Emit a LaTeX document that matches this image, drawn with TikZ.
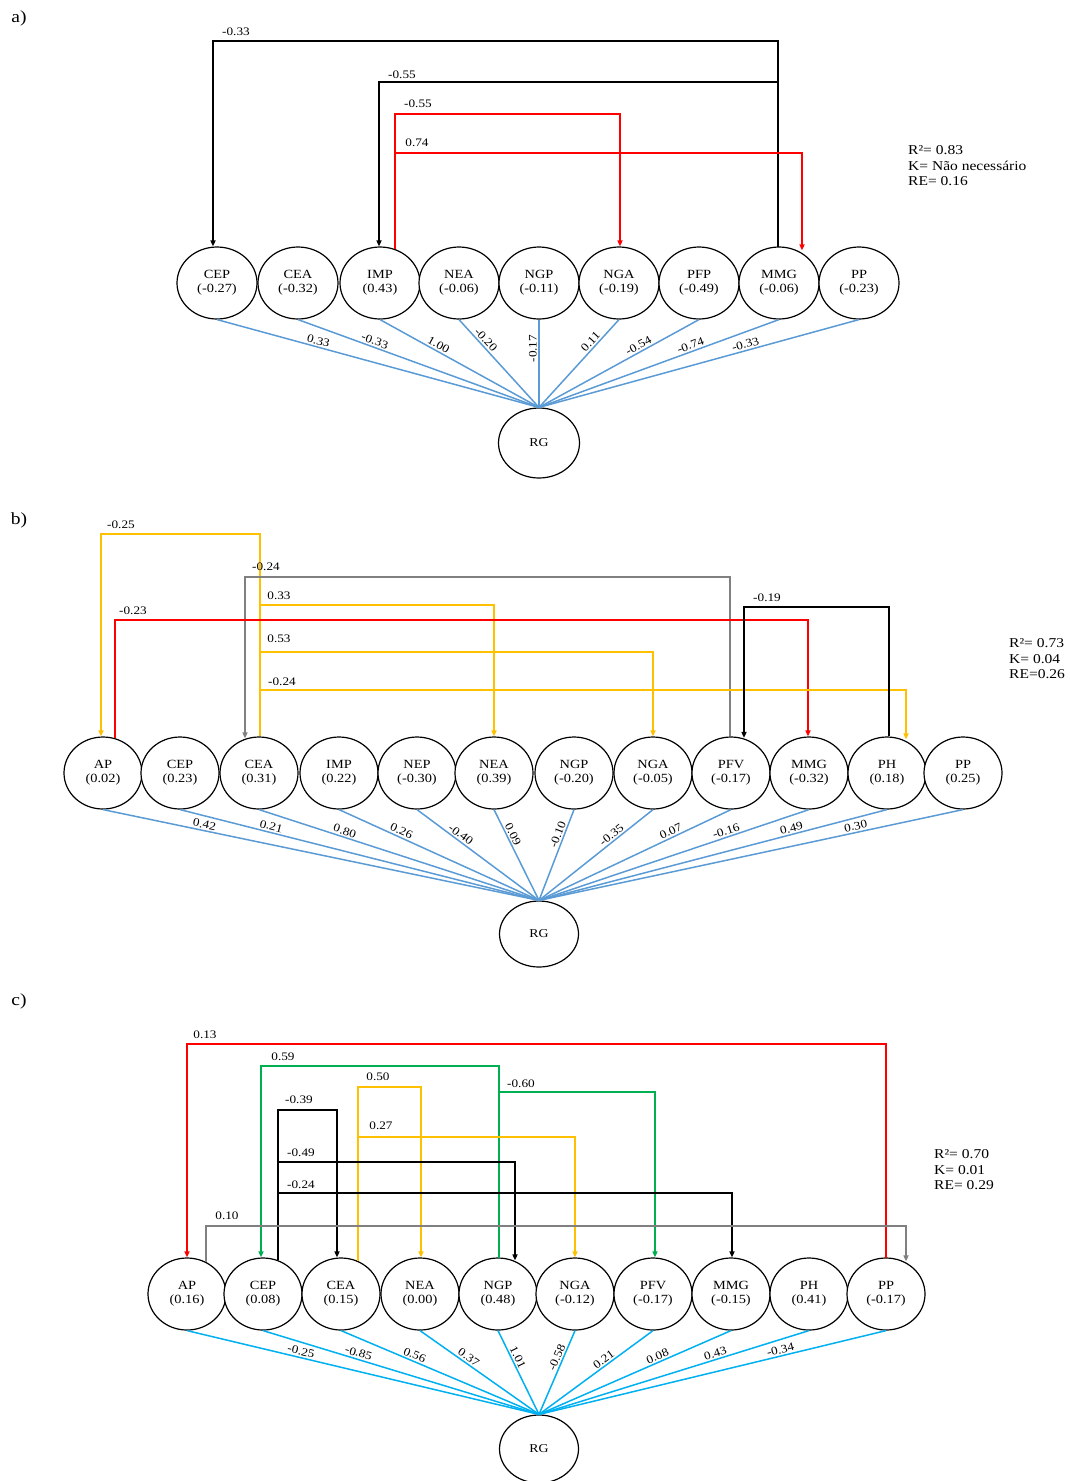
\documentclass[tikz,border=0pt]{standalone}
\usepackage{fontspec}
\setmainfont{Liberation Serif}
\usepackage{graphicx}
\usetikzlibrary{shapes.geometric,arrows.meta}
\definecolor{cblue}{HTML}{5B9BD5}
\definecolor{ccyan}{HTML}{00B0F0}
\definecolor{cred}{HTML}{FF0000}
\definecolor{cyel}{HTML}{FFC000}
\definecolor{cgry}{HTML}{808080}
\definecolor{cgrn}{HTML}{00B050}
\newcommand{\sx}[1]{\scalebox{1.15}[1]{#1}}
\newcommand{\nt}[2]{\raisebox{-2pt}{\sx{\begin{tabular}{@{}c@{}}#1\\#2\end{tabular}}}}
\newcommand{\rgt}{\raisebox{-1.5pt}{\sx{RG}}}
\begin{document}
\begin{tikzpicture}[x=1pt,y=-1pt,
  ell/.style={draw,ellipse,fill=white,line width=1.2pt,inner sep=0pt,minimum width=80pt,minimum height=72pt,font=\fontsize{12.5}{14}\selectfont},
  ellb/.style={ell,minimum width=78pt},
  rg/.style={ell,minimum width=81pt,font=\fontsize{12}{13}\selectfont},
  arr/.style={-{Triangle[length=6pt,width=5pt]}},
  conn/.style={line width=1.6pt},
  kblk/.style={conn,draw=black},
  kred/.style={conn,draw=cred},
  kyel/.style={conn,draw=cyel},
  kgry/.style={conn,draw=cgry},
  kgrn/.style={conn,draw=cgrn},
  spa/.style={draw=cblue,line width=1.5pt},
  spc/.style={draw=ccyan,line width=1.5pt},
  sl/.style={sloped,above,inner sep=1.5pt,font=\fontsize{11.5}{13}\selectfont},
  tl/.style={inner sep=0pt,font=\fontsize{11.5}{13}\selectfont},
  info/.style={anchor=west,inner sep=0pt,font=\fontsize{13.5}{15.5}\selectfont},
  plab/.style={inner sep=0pt,font=\fontsize{17}{19}\selectfont}
]
\useasboundingbox (0,0) rectangle (1070,1481);

% ---------------- panel a ----------------
\node[plab] (pa) at (19,18) {\sx{a)}};
\node[ell] (aCEP) at (217,283) {\nt{CEP}{(-0.27)}};
\node[ell] (aCEA) at (298,283) {\nt{CEA}{(-0.32)}};
\node[ell] (aIMP) at (380,283) {\nt{IMP}{(0.43)}};
\node[ell] (aNEA) at (459,283) {\nt{NEA}{(-0.06)}};
\node[ell] (aNGP) at (539,283) {\nt{NGP}{(-0.11)}};
\node[ell] (aNGA) at (619,283) {\nt{NGA}{(-0.19)}};
\node[ell] (aPFP) at (699,283) {\nt{PFP}{(-0.49)}};
\node[ell] (aMMG) at (779,283) {\nt{MMG}{(-0.06)}};
\node[ell] (aPP) at (859,283) {\nt{PP}{(-0.23)}};
\node[rg,minimum height=70pt] (aRG) at (539,443) {\rgt};

\draw[spa] (aCEP.south) -- node[sl,pos=0.31]{\sx{0.33}} (aRG.north);
\draw[spa] (aCEA.south) -- node[sl,pos=0.31]{\sx{-0.33}} (aRG.north);
\draw[spa] (aIMP.south) -- node[sl,pos=0.35]{\sx{1.00}} (aRG.north);
\draw[spa] (aNEA.south) -- node[sl,pos=0.28]{\sx{-0.20}} (aRG.north);
\draw[spa] (aRG.north) -- node[sl,pos=0.67]{\sx{-0.17}} (aNGP.south);
\draw[spa] (aNGA.south) -- node[sl,pos=0.3]{\sx{0.11}} (aRG.north);
\draw[spa] (aPFP.south) -- node[sl,pos=0.36]{\sx{-0.54}} (aRG.north);
\draw[spa] (aMMG.south) -- node[sl,pos=0.36]{\sx{-0.74}} (aRG.north);
\draw[spa] (aPP.south) -- node[sl,pos=0.35]{\sx{-0.33}} (aRG.north);

\coordinate (aMMGt) at ([xshift=-1pt,yshift=-1pt]aMMG.north);
\coordinate (aCEPh) at ([xshift=-4pt]aCEP.north);
\coordinate (aIMPh) at ([xshift=-1pt]aIMP.north);
\coordinate (aIMPt) at ([xshift=15pt,yshift=-2.5pt]aIMP.north);
\coordinate (aNGAh) at ([xshift=1pt]aNGA.north);
\coordinate (aMMGh) at ([xshift=23pt,yshift=-4pt]aMMG.north);
\draw[kblk,arr] (aMMGt) -- (aMMGt |- 0,41) -| (aCEPh);
\draw[kblk,arr] (aMMGt |- 0,82) -| (aIMPh);
\draw[kred,arr] (aIMPt) -- (aIMPt |- 0,114) -| (aNGAh);
\draw[kred,arr] (aIMPt |- 0,153) -| (aMMGh);
\node[tl] (la1) at (236,32) {\sx{-0.33}};
\node[tl] (la2) at (402,75) {\sx{-0.55}};
\node[tl] (la3) at (418,104) {\sx{-0.55}};
\node[tl] (la4) at (417,143) {\sx{0.74}};
\node[info] (ia) at (908,167) {\sx{\begin{tabular}{@{}l@{}}R²= 0.83\\K= Não necessário\\RE= 0.16\end{tabular}}};

% ---------------- panel b ----------------
\node[plab] (pb) at (19,520) {\sx{b)}};
\node[ellb] (bAP) at (103,773) {\nt{AP}{(0.02)}};
\node[ellb] (bCEP) at (180,773) {\nt{CEP}{(0.23)}};
\node[ellb] (bCEA) at (259,773) {\nt{CEA}{(0.31)}};
\node[ellb] (bIMP) at (339,773) {\nt{IMP}{(0.22)}};
\node[ellb] (bNEP) at (417,773) {\nt{NEP}{(-0.30)}};
\node[ellb] (bNEA) at (494,773) {\nt{NEA}{(0.39)}};
\node[ellb] (bNGP) at (574,773) {\nt{NGP}{(-0.20)}};
\node[ellb] (bNGA) at (653,773) {\nt{NGA}{(-0.05)}};
\node[ellb] (bPFV) at (731,773) {\nt{PFV}{(-0.17)}};
\node[ellb] (bMMG) at (809,773) {\nt{MMG}{(-0.32)}};
\node[ellb] (bPH) at (887,773) {\nt{PH}{(0.18)}};
\node[ellb] (bPP) at (963,773) {\nt{PP}{(0.25)}};
\node[rg,minimum height=66pt,minimum width=79pt] (bRG) at (539,934) {\rgt};

\draw[spa] (bAP.south) -- node[sl,pos=0.23]{\sx{0.42}} (bRG.north);
\draw[spa] (bCEP.south) -- node[sl,pos=0.25]{\sx{0.21}} (bRG.north);
\draw[spa] (bCEA.south) -- node[sl,pos=0.3]{\sx{0.80}} (bRG.north);
\draw[spa] (bIMP.south) -- node[sl,pos=0.3]{\sx{0.26}} (bRG.north);
\draw[spa] (bNEP.south) -- node[sl,pos=0.33]{\sx{-0.40}} (bRG.north);
\draw[spa] (bNEA.south) -- node[sl,pos=0.3]{\sx{0.09}} (bRG.north);
\draw[spa] (bNGP.south) -- node[sl,pos=0.3]{\sx{-0.10}} (bRG.north);
\draw[spa] (bNGA.south) -- node[sl,pos=0.33]{\sx{-0.35}} (bRG.north);
\draw[spa] (bPFV.south) -- node[sl,pos=0.3]{\sx{0.07}} (bRG.north);
\draw[spa] (bMMG.south) -- node[sl,pos=0.3]{\sx{-0.16}} (bRG.north);
\draw[spa] (bPH.south) -- node[sl,pos=0.27]{\sx{0.49}} (bRG.north);
\draw[spa] (bPP.south) -- node[sl,pos=0.25]{\sx{0.30}} (bRG.north);

\coordinate (bCEAt) at ([xshift=1pt]bCEA.north);
\coordinate (bAPh) at ([xshift=-2pt]bAP.north);
\coordinate (bPFVt) at ([xshift=-1pt]bPFV.north);
\coordinate (bCEAh) at ([xshift=-14pt,yshift=-2pt]bCEA.north);
\coordinate (bNEAh) at (bNEA.north);
\coordinate (bAPt) at ([xshift=12pt,yshift=-1.5pt]bAP.north);
\coordinate (bMMGh) at ([xshift=-1pt]bMMG.north);
\coordinate (bNGAh) at (bNGA.north);
\coordinate (bPHh) at ([xshift=19pt,yshift=-3pt]bPH.north);
\coordinate (bPHt) at ([xshift=2pt]bPH.north);
\coordinate (bPFVh) at ([xshift=13pt,yshift=-1.5pt]bPFV.north);
\draw[kyel,arr] (bCEAt) -- (bCEAt |- 0,534) -| (bAPh);
\draw[kgry,arr] (bPFVt) -- (bPFVt |- 0,577) -| (bCEAh);
\draw[kyel,arr] (bCEAt |- 0,605) -| (bNEAh);
\draw[kred,arr] (bAPt) -- (bAPt |- 0,620) -| (bMMGh);
\draw[kyel,arr] (bCEAt |- 0,652) -| (bNGAh);
\draw[kyel,arr] (bCEAt |- 0,690) -| (bPHh);
\draw[kblk,arr] (bPHt) -- (bPHt |- 0,607) -| (bPFVh);
\node[tl] (lb1) at (121,525) {\sx{-0.25}};
\node[tl] (lb2) at (266,567) {\sx{-0.24}};
\node[tl] (lb3) at (279,596) {\sx{0.33}};
\node[tl] (lb4) at (133,611) {\sx{-0.23}};
\node[tl] (lb5) at (279,639) {\sx{0.53}};
\node[tl] (lb6) at (282,682) {\sx{-0.24}};
\node[tl] (lb7) at (767,598) {\sx{-0.19}};
\node[info] (ib) at (1009,660) {\sx{\begin{tabular}{@{}l@{}}R²= 0.73\\K= 0.04\\RE=0.26\end{tabular}}};

% ---------------- panel c ----------------
\node[plab] (pc) at (19,1001) {\sx{c)}};
\node[ellb] (cAP) at (187,1294) {\nt{AP}{(0.16)}};
\node[ellb] (cCEP) at (263,1294) {\nt{CEP}{(0.08)}};
\node[ellb] (cCEA) at (341,1294) {\nt{CEA}{(0.15)}};
\node[ellb] (cNEA) at (420,1294) {\nt{NEA}{(0.00)}};
\node[ellb] (cNGP) at (498,1294) {\nt{NGP}{(0.48)}};
\node[ellb] (cNGA) at (575,1294) {\nt{NGA}{(-0.12)}};
\node[ellb] (cPFV) at (653,1294) {\nt{PFV}{(-0.17)}};
\node[ellb] (cMMG) at (731,1294) {\nt{MMG}{(-0.15)}};
\node[ellb] (cPH) at (809,1294) {\nt{PH}{(0.41)}};
\node[ellb] (cPP) at (886,1294) {\nt{PP}{(-0.17)}};
\node[rg,minimum height=68pt,minimum width=79pt] (cRG) at (539,1449) {\rgt};

\draw[spc] (cAP.south) -- node[sl,pos=0.32]{\sx{-0.25}} (cRG.north);
\draw[spc] (cCEP.south) -- node[sl,pos=0.34]{\sx{-0.85}} (cRG.north);
\draw[spc] (cCEA.south) -- node[sl,pos=0.36]{\sx{0.56}} (cRG.north);
\draw[spc] (cNEA.south) -- node[sl,pos=0.38]{\sx{0.37}} (cRG.north);
\draw[spc] (cNGP.south) -- node[sl,pos=0.35]{\sx{1.01}} (cRG.north);
\draw[spc] (cNGA.south) -- node[sl,pos=0.35]{\sx{-0.58}} (cRG.north);
\draw[spc] (cPFV.south) -- node[sl,pos=0.4]{\sx{0.21}} (cRG.north);
\draw[spc] (cMMG.south) -- node[sl,pos=0.37]{\sx{0.08}} (cRG.north);
\draw[spc] (cPH.south) -- node[sl,pos=0.34]{\sx{0.43}} (cRG.north);
\draw[spc] (cPP.south) -- node[sl,pos=0.3]{\sx{-0.34}} (cRG.north);

\coordinate (cAPh) at (cAP.north);
\coordinate (cPPt) at ([yshift=-1pt]cPP.north);
\coordinate (cNGPt) at ([xshift=1pt,yshift=-1pt]cNGP.north);
\coordinate (cCEPh) at ([xshift=-2pt]cCEP.north);
\coordinate (cPFVh) at ([xshift=2pt]cPFV.north);
\coordinate (cCEAt) at ([xshift=17pt,yshift=-3.5pt]cCEA.north);
\coordinate (cNEAh) at ([xshift=1pt]cNEA.north);
\coordinate (cNGAh) at (cNGA.north);
\coordinate (cCEPt) at ([xshift=15pt,yshift=-2.5pt]cCEP.north);
\coordinate (cCEAh) at ([xshift=-4pt]cCEA.north);
\coordinate (cNGPh) at ([xshift=17pt,yshift=-3pt]cNGP.north);
\coordinate (cMMGh) at ([xshift=1pt]cMMG.north);
\coordinate (cAPt) at ([xshift=19pt,yshift=-4.5pt]cAP.north);
\coordinate (cPPh) at ([xshift=20pt,yshift=-4pt]cPP.north);
\draw[kred,arr] (cPPt) -- (cPPt |- 0,1044) -| (cAPh);
\draw[kgrn,arr] (cNGPt) -- (cNGPt |- 0,1066) -| (cCEPh);
\draw[kgrn,arr] (cNGPt |- 0,1092) -| (cPFVh);
\draw[kyel,arr] (cCEAt) -- (cCEAt |- 0,1087) -| (cNEAh);
\draw[kyel,arr] (cCEAt |- 0,1137) -| (cNGAh);
\draw[kblk,arr] (cCEPt) -- (cCEPt |- 0,1110) -| (cCEAh);
\draw[kblk,arr] (cCEPt |- 0,1162) -| (cNGPh);
\draw[kblk,arr] (cCEPt |- 0,1193) -| (cMMGh);
\draw[kgry,arr] (cAPt) -- (cAPt |- 0,1226) -| (cPPh);
\node[tl] (lc1) at (205,1035) {\sx{0.13}};
\node[tl] (lc2) at (283,1057) {\sx{0.59}};
\node[tl] (lc3) at (521,1084) {\sx{-0.60}};
\node[tl] (lc4) at (378,1077) {\sx{0.50}};
\node[tl] (lc5) at (381,1126) {\sx{0.27}};
\node[tl] (lc6) at (299,1100) {\sx{-0.39}};
\node[tl] (lc7) at (301,1153) {\sx{-0.49}};
\node[tl] (lc8) at (301,1185) {\sx{-0.24}};
\node[tl] (lc9) at (227,1216) {\sx{0.10}};
\node[info] (ic) at (934,1171) {\sx{\begin{tabular}{@{}l@{}}R²= 0.70\\K= 0.01\\RE= 0.29\end{tabular}}};
\end{tikzpicture}
\end{document}
